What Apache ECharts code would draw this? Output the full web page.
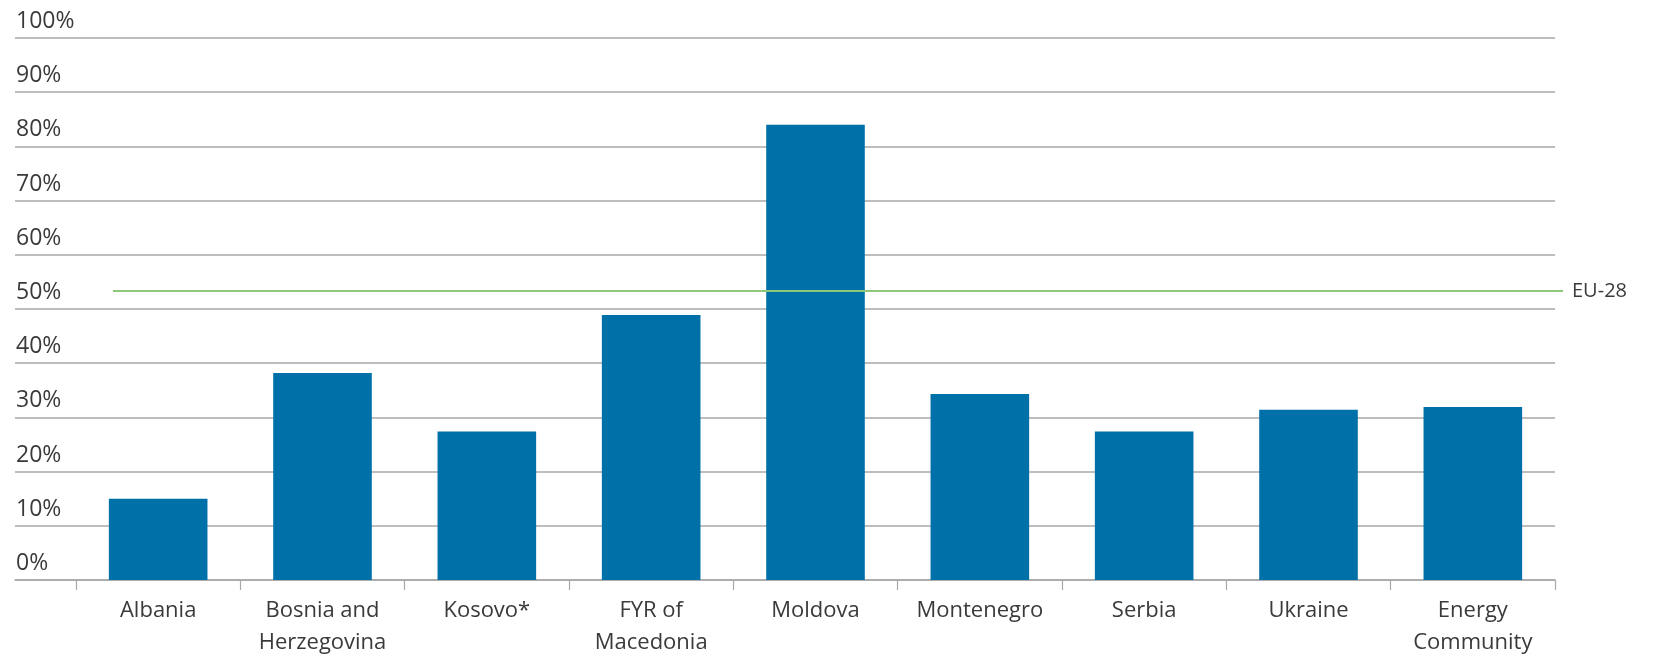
<!DOCTYPE html>
<html>
<head>
<meta charset="utf-8">
<script src="https://cdn.jsdelivr.net/npm/echarts@6/dist/echarts.min.js"></script>
<style>
html,body{margin:0;padding:0;background:#fff;}
#chart{width:1658px;height:657px;}
</style>
</head>
<body>
<div id="chart"></div>
<script>
const categories = ['Albania', 'Bosnia and\nHerzegovina', 'Kosovo*', 'FYR of\nMacedonia', 'Moldova', 'Montenegro', 'Serbia', 'Ukraine', 'Energy\nCommunity'];
const shares = [15, 38.2, 27.4, 48.9, 84, 34.3, 27.4, 31.4, 31.9];
const eu28 = 53.3;
const eu28Label = 'EU-28';
const yTicks = [0, 10, 20, 30, 40, 50, 60, 70, 80, 90, 100];

const FONT = 'Open Sans';
const TXT = '#3a3a3a';
const GRIDC = '#a8a8a8';

const chart = echarts.init(document.getElementById('chart'));
const gTop = 38, gBottom = 77;
chart.setOption({
  animation: false,
  backgroundColor: '#fff',
  grid: [
    {left: 15, right: 103, top: gTop, bottom: gBottom, outerBoundsMode: 'none', containLabel: false},
    {left: 76, right: 103, top: gTop, bottom: gBottom, outerBoundsMode: 'none', containLabel: false},
    {left: 113, right: 95, top: gTop, bottom: gBottom, outerBoundsMode: 'none', containLabel: false}
  ],
  xAxis: [
    {gridIndex: 0, type: 'value', min: 0, max: 1, show: true,
     axisLine: {show: true, lineStyle: {color: GRIDC, width: 1.5}},
     axisTick: {show: false}, axisLabel: {show: false}, splitLine: {show: false}},
    {gridIndex: 1, type: 'category', data: categories,
     axisLine: {show: false},
     axisTick: {show: true, length: 10, lineStyle: {color: GRIDC, width: 1.2}},
     axisLabel: {color: TXT, fontFamily: FONT, fontSize: 22, lineHeight: 32, margin: 15, interval: 0}},
    {gridIndex: 2, type: 'category', data: categories, show: false}
  ],
  yAxis: [
    {gridIndex: 0, type: 'value', min: 0, max: 100, interval: 10,
     axisLine: {show: false}, axisTick: {show: false},
     axisLabel: {inside: true, margin: 1, verticalAlign: 'bottom', padding: [0, 0, 5, 0],
       color: TXT, fontFamily: FONT, fontSize: 23,
       formatter: v => yTicks.includes(v) ? v + '%' : ''},
     splitLine: {show: true, lineStyle: {color: GRIDC, width: 1.5}}},
    {gridIndex: 1, type: 'value', min: 0, max: 100, show: false},
    {gridIndex: 2, type: 'value', min: 0, max: 100, show: false}
  ],
  series: [
    {type: 'bar', xAxisIndex: 1, yAxisIndex: 1, data: shares, barWidth: '60%',
     itemStyle: {color: '#0070a8'}, z: 3},
    {type: 'line', xAxisIndex: 2, yAxisIndex: 2, data: [], z: 5,
     markLine: {silent: true, symbol: ['none', 'none'],
       lineStyle: {color: '#8cc77a', width: 2, type: 'solid'},
       label: {show: true, position: 'end', distance: 9, formatter: eu28Label,
         color: TXT, fontFamily: FONT, fontSize: 20},
       data: [{yAxis: eu28}]}}
  ]
});
</script>
</body>
</html>
